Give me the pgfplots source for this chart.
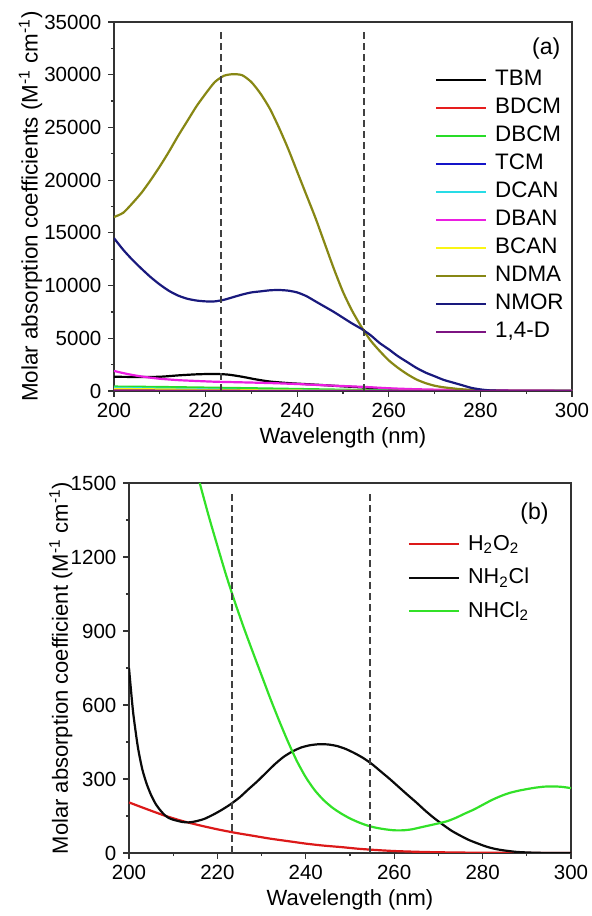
\documentclass[border=0pt]{standalone}
\usepackage{pgfplots}
\pgfplotsset{compat=1.18}
\usepackage{fontspec}
\setmainfont{Liberation Sans}

% series colours
\definecolor{cTBM}{RGB}{0,0,0}
\definecolor{cBDCM}{RGB}{230,30,30}
\definecolor{cDBCM}{RGB}{40,220,40}
\definecolor{cTCM}{RGB}{20,20,200}
\definecolor{cDCAN}{RGB}{40,220,230}
\definecolor{cDBAN}{RGB}{235,30,225}
\definecolor{cBCAN}{RGB}{250,245,20}
\definecolor{cNDMA}{RGB}{135,135,20}
\definecolor{cNMOR}{RGB}{25,25,125}
\definecolor{cDIOX}{RGB}{125,20,130}
\definecolor{cH2O2}{RGB}{220,25,25}
\definecolor{cNH2Cl}{RGB}{10,10,10}
\definecolor{cNHCl2}{RGB}{50,225,40}

\pgfplotsset{
  spec/.style={
    scale only axis,
    font=\fontsize{10.25}{12}\selectfont,
    xmin=200, xmax=300,
    xtick={200,220,...,300},
    minor x tick num=1,
    tick align=outside,
    xtick pos=bottom, ytick pos=left,
    major tick length=2.8pt, minor tick length=1.6pt,
    axis line style={line width=0.7pt, black!80},
    every tick/.style={line width=0.6pt, black!80},
    /pgf/number format/assume math mode=true,
    /pgf/number format/1000 sep={},
    scaled y ticks=false,
    xlabel={Wavelength (nm)},
    xlabel style={font=\fontsize{11}{13}\selectfont, yshift=2pt},
    every axis plot/.append style={line width=1.1pt, smooth, tension=0.4},
    legend cell align=left,
    legend image code/.code={\draw[#1] (0pt,0pt) -- (25pt,0pt);},
    legend style={draw=none, fill=none, inner sep=0pt,
      nodes={inner sep=0pt, text height=8.4pt, text depth=2.4pt},
      column sep=4pt},
  },
  vline/.style={line width=1pt, black!75, sharp plot,
    dash pattern=on 3.5pt off 2pt, forget plot},
}

\begin{document}
\begin{tikzpicture}
\useasboundingbox (0,0) rectangle (296pt,458pt);

% ---------------- (a) disinfection by-products ----------------
\begin{axis}[spec,
  at={(57pt,262.5pt)}, anchor=south west,
  width=229pt, height=184.5pt,
  ymin=0, ymax=35000,
  ytick={0,5000,...,35000},
  minor y tick num=1,
  ylabel={Molar absorption coefficients (M\textsuperscript{-1} cm\textsuperscript{-1})},
  ylabel style={font=\fontsize{11.2}{13}\selectfont,
    at={(axis description cs:-0.182,0.5)}, anchor=center},
  legend style={at={(0.70,0.874)}, anchor=north west, row sep=3.2pt,
    font=\fontsize{11.2}{13}\selectfont},
]
\addplot[cTBM] coordinates {
 (200,1350) (205,1330) (210,1350) (214,1480) (218,1580) (222,1620) (225,1550)
 (228,1350) (231,1100) (234,900) (238,750) (242,650) (246,550) (250,440)
 (255,320) (260,200) (265,110) (270,50) (275,20) (280,5) (290,0) (300,0)};
\addlegendentry{TBM}
\addplot[cBDCM] coordinates {
 (200,150) (210,100) (220,70) (230,45) (240,25) (250,10) (260,0) (300,0)};
\addlegendentry{BDCM}
\addplot[cDBCM] coordinates {
 (200,420) (210,380) (220,320) (230,260) (240,190) (250,120) (260,60)
 (270,25) (280,10) (300,0)};
\addlegendentry{DBCM}
\addplot[cTCM] coordinates {
 (200,90) (210,60) (220,35) (230,20) (240,10) (250,5) (260,0) (300,0)};
\addlegendentry{TCM}
\addplot[cDCAN] coordinates {
 (200,300) (210,220) (220,150) (230,90) (240,45) (250,15) (260,5) (300,0)};
\addlegendentry{DCAN}
\addplot[cDBAN] coordinates {
 (200,1900) (202,1700) (204,1520) (206,1380) (208,1260) (210,1160) (214,1030)
 (218,950) (222,880) (226,840) (230,800) (235,740) (240,660) (245,560)
 (250,470) (255,380) (260,260) (265,180) (270,130) (275,100) (280,80)
 (290,50) (300,30)};
\addlegendentry{DBAN}
\addplot[cBCAN] coordinates {
 (200,200) (210,150) (220,100) (230,65) (240,40) (250,20) (260,10) (280,0) (300,0)};
\addlegendentry{BCAN}
\addplot[cNDMA] coordinates {
 (200,16500) (202,16900) (204,17800) (206,18800) (208,20000) (210,21300)
 (212,22700) (214,24200) (216,25600) (218,27000) (220,28200) (222,29300)
 (224,29900) (226,30050) (228,29950) (230,29300) (232,28200) (234,26800)
 (236,25000) (238,23000) (240,20800) (242,18600) (244,16400) (246,14000)
 (248,11600) (250,9400) (252,7600) (254,6100) (256,4800) (258,3800)
 (260,2900) (262,2200) (264,1600) (266,1100) (268,750) (270,500) (272,350)
 (275,200) (278,100) (281,40) (285,10) (290,0) (300,0)};
\addlegendentry{NDMA}
\addplot[cNMOR] coordinates {
 (200,14500) (202,13400) (204,12450) (206,11600) (208,10800) (210,10100)
 (212,9500) (214,9050) (216,8750) (218,8580) (220,8500) (222,8500)
 (224,8650) (226,8900) (228,9150) (230,9350) (232,9450) (234,9550)
 (236,9580) (238,9520) (240,9350) (242,9000) (244,8500) (246,8000)
 (248,7500) (250,6950) (252,6400) (254,5900) (256,5300) (258,4550)
 (260,3950) (262,3300) (264,2750) (266,2200) (268,1750) (270,1400)
 (272,1050) (274,800) (276,550) (278,300) (280,150) (282,60) (285,20)
 (290,0) (300,0)};
\addlegendentry{NMOR}
\addplot[cDIOX] coordinates {
 (200,60) (210,35) (220,20) (240,5) (260,0) (300,0)};
\addlegendentry{1,4-D}
\addplot[vline] coordinates {(223.4,0) (223.4,34400)};
\addplot[vline] coordinates {(254.5,0) (254.5,34400)};
\node[anchor=north east, font=\fontsize{11.5}{13}\selectfont]
  at (rel axis cs:0.99,0.975) {(a)};
\end{axis}

% ---------------- (b) oxidants ----------------
\begin{axis}[spec,
  at={(64.5pt,31.5pt)}, anchor=south west,
  width=221pt, height=185pt,
  ymin=0, ymax=1500,
  ytick={0,300,...,1500},
  minor y tick num=1,
  ylabel={Molar absorption coefficient (M\textsuperscript{-1} cm\textsuperscript{-1})},
  ylabel style={font=\fontsize{11}{13}\selectfont,
    at={(axis description cs:-0.154,0.5)}, anchor=center},
  legend style={at={(0.63,0.865)}, anchor=north west, row sep=6pt,
    font=\fontsize{10.8}{13}\selectfont},
]
\addplot[cH2O2] coordinates {
 (200,205) (204,178) (208,152) (212,130) (216,112) (220,96) (224,82)
 (228,70) (232,58) (236,48) (240,38) (244,30) (248,24) (252,17) (256,12)
 (260,8) (265,5) (270,3) (280,1) (300,0)};
\addlegendentry{H\textsubscript{2}O\textsubscript{2}}
\addplot[cNH2Cl] coordinates {
 (200,750) (200.5,650) (201,560) (202,430) (203,340) (204,280) (205,235)
 (206,200) (207,175) (208,155) (209,142) (210,135) (212,126) (213.5,124)
 (215,128) (217,138) (219,155) (221,175) (223,198) (225,225) (227,258)
 (229,290) (231,325) (233,360) (235,390) (237,412) (239,428) (241,437)
 (243,441) (245,440) (247,434) (249,422) (251,405) (253,385) (255,360)
 (257,330) (259,300) (261,268) (263,236) (265,205) (267,172) (269,142)
 (271,115) (273,90) (275,70) (277,52) (279,38) (281,25) (283,16) (285,10)
 (288,4) (292,1) (296,0) (300,0)};
\addlegendentry{NH\textsubscript{2}Cl}
\addplot[cNHCl2] coordinates {
 (216,1500) (218,1368) (220,1245) (222,1125) (224,1015) (226,912) (228,815)
 (230,720) (232,625) (234,535) (236,450) (238,372) (240,307) (242,255)
 (244,215) (246,184) (248,160) (250,140) (252,124) (254,111) (256,102)
 (258,96) (260,92) (262,92) (264,96) (266,104) (268,112) (270,120)
 (272,129) (274,143) (276,160) (278,176) (280,195) (282,214) (284,230)
 (286,243) (288,252) (290,259) (292,265) (294,269) (296,270) (298,268)
 (300,263)};
\addlegendentry{NHCl\textsubscript{2}}
\addplot[vline] coordinates {(223.4,0) (223.4,1465)};
\addplot[vline] coordinates {(254.5,0) (254.5,1465)};
\node[anchor=north east, font=\fontsize{11.5}{13}\selectfont]
  at (rel axis cs:0.965,0.965) {(b)};
\end{axis}
\end{tikzpicture}
\end{document}
